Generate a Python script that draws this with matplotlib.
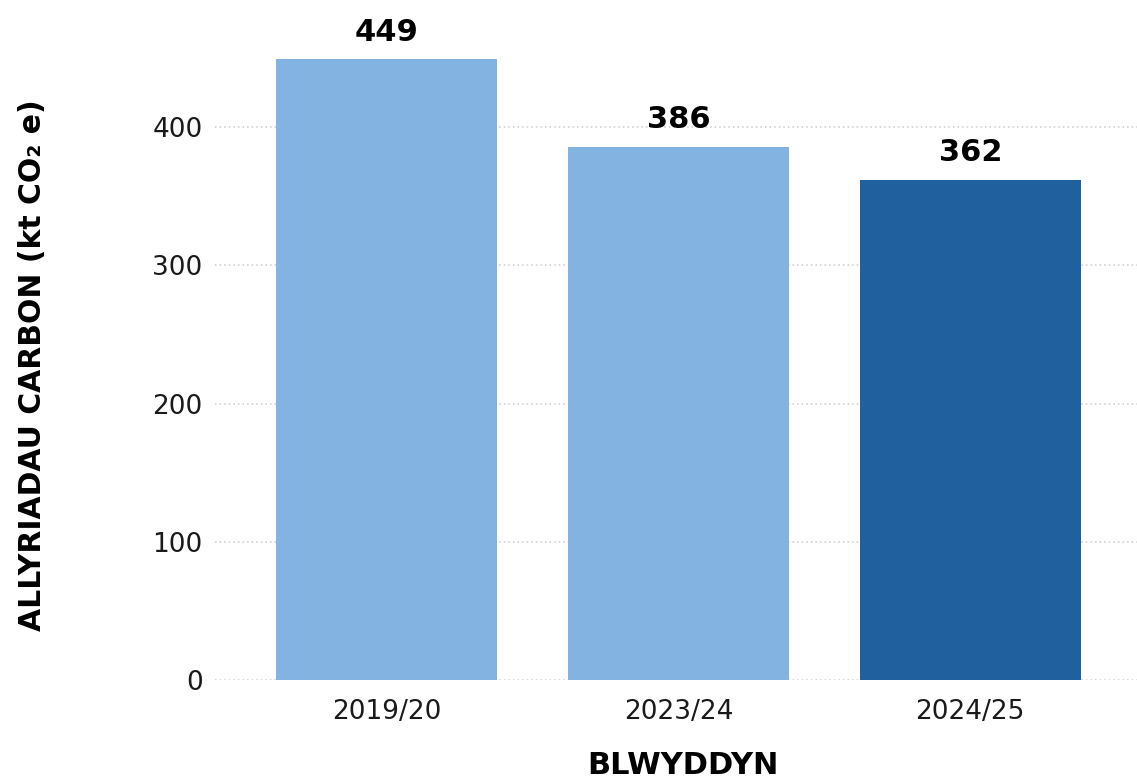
import matplotlib.pyplot as plt

# data
years = ["2019/20", "2023/24", "2024/25"]
emissions = [449, 386, 362]
bar_colors = ["#83b3e1", "#83b3e1", "#20609e"]
yticks = [0, 100, 200, 300, 400]

plt.rcParams['font.family'] = ['DejaVu Sans']

fig = plt.figure(figsize=(11.37, 7.81), dpi=100)
ax = fig.add_axes([215/1137, 101/781, 922/1137, 680/781])

x = list(range(len(years)))
bars = ax.bar(x, emissions, width=0.757, color=bar_colors, zorder=3)

# value labels above each bar
for xi, v in zip(x, emissions):
    ax.text(xi, v + 9, str(v), ha='center', va='bottom',
            fontsize=22, fontweight='bold', color='black', zorder=4)

ax.set_xlim(-0.587, 2.571)
ax.set_ylim(0, 492)
ax.set_yticks(yticks)
ax.set_xticks(x)
ax.set_xticklabels(years)
ax.tick_params(axis='both', length=0, labelsize=19, colors='#1a1a1a')
ax.tick_params(axis='y', pad=9)
ax.tick_params(axis='x', pad=14)

ax.grid(axis='y', linestyle=(0, (1, 2)), color='#cccccc', linewidth=1.1, zorder=0)
ax.grid(axis='x', visible=False)
for s in ax.spines.values():
    s.set_visible(False)

fig.text(33/1137, 1 - 365/781, "ALLYRIADAU CARBON (kt CO\u2082 e)", rotation=90,
         ha='center', va='center', fontsize=21.5, fontweight='bold')
fig.text(683/1137, 1 - 765/781, "BLWYDDYN", ha='center', va='center',
         fontsize=22, fontweight='bold')

fig.savefig("out.png", dpi=100)
